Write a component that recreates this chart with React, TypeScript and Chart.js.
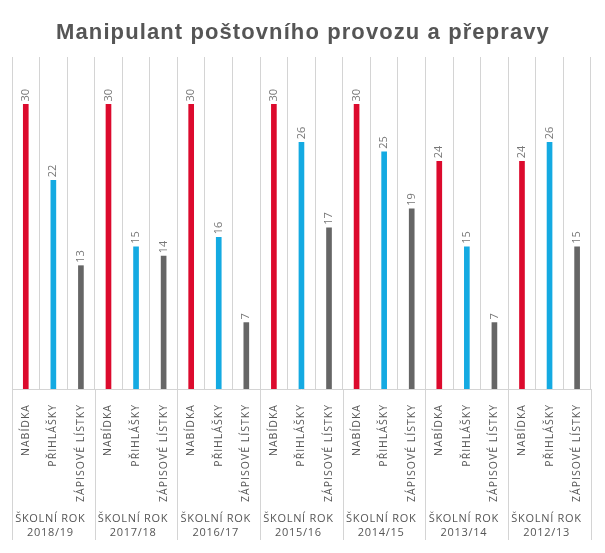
import React, { useEffect, useRef } from "react";
import { Chart, registerables } from "chart.js";

Chart.register(...registerables);

const TITLE = "Manipulant poštovního provozu a přepravy";
const YEARS = ["2018/19", "2017/18", "2016/17", "2015/16", "2014/15", "2013/14", "2012/13"];
const GROUP_PREFIX = "ŠKOLNÍ ROK";
const SERIES_NAMES = ["NABÍDKA", "PŘIHLÁŠKY", "ZÁPISOVÉ LÍSTKY"];
const NABIDKA = [30, 30, 30, 30, 30, 24, 24];
const PRIHLASKY = [22, 15, 16, 26, 25, 15, 26];
const ZAPISOVE = [13, 14, 7, 17, 19, 7, 15];
const COLORS = ["#dc0a2d", "#14aae2", "#666666"];

export default function App() {
  const ref = useRef<HTMLCanvasElement | null>(null);

  useEffect(() => {
    const canvas = ref.current;
    if (!canvas) return;

    const labels: string[] = [];
    const data: number[] = [];
    const colors: string[] = [];
    const series = [NABIDKA, PRIHLASKY, ZAPISOVE];
    YEARS.forEach((_, g) => {
      series.forEach((s, i) => {
        labels.push(SERIES_NAMES[i]);
        data.push(s[g]);
        colors.push(COLORS[i]);
      });
    });

    const overlay = {
      id: "overlay",
      beforeDraw(chart: any) {
        chart.ctx.letterSpacing = "1px";
      },
      afterDatasetsDraw(chart: any) {
        const ctx = chart.ctx;
        const meta = chart.getDatasetMeta(0);
        ctx.save();
        ctx.letterSpacing = "0px";
        ctx.fillStyle = "#777777";
        ctx.font = "11px 'Open Sans'";
        ctx.textAlign = "left";
        ctx.textBaseline = "middle";
        meta.data.forEach((el: any, i: number) => {
          ctx.save();
          ctx.translate(el.x, el.y - 3);
          ctx.rotate(-Math.PI / 2);
          ctx.fillText(String(data[i]), 0, 0);
          ctx.restore();
        });
        ctx.restore();
      },
      afterDraw(chart: any) {
        const ctx = chart.ctx;
        const xs = chart.scales.x;
        const area = chart.chartArea;
        const half = (xs.getPixelForValue(1) - xs.getPixelForValue(0)) / 2;
        ctx.save();
        ctx.strokeStyle = "#d4d4d4";
        ctx.lineWidth = 1;
        for (let g = 0; g <= YEARS.length; g++) {
          const x = Math.round(xs.getPixelForValue(g * 3) - half) + 0.5;
          ctx.beginPath();
          ctx.moveTo(x, area.bottom);
          ctx.lineTo(x, 540);
          ctx.stroke();
        }
        ctx.fillStyle = "#555555";
        ctx.font = "11px 'Open Sans'";
        ctx.letterSpacing = "0.7px";
        ctx.textAlign = "center";
        ctx.textBaseline = "middle";
        YEARS.forEach((y, g) => {
          const cx = xs.getPixelForValue(g * 3 + 1) - 3;
          ctx.fillText(GROUP_PREFIX, cx, 519);
          ctx.fillText(y, cx, 533);
        });
        ctx.fillStyle = "#555555";
        ctx.font = "bold 22px 'Liberation Sans'";
        ctx.letterSpacing = "1.1px";
        ctx.fillText(TITLE, 303, 33);
        ctx.restore();
      },
    };

    const chart = new Chart(canvas, {
      type: "bar",
      data: {
        labels,
        datasets: [
          {
            data,
            backgroundColor: colors,
            barThickness: 5,
            borderWidth: 0,
          },
        ],
      },
      options: {
        responsive: false,
        animation: false,
        layout: { padding: { top: 57, left: 12, right: 12, bottom: 0 } },
        plugins: {
          legend: { display: false },
          tooltip: { enabled: false },
          title: { display: false },
        },
        scales: {
          x: {
            afterFit(scale: any) {
              scale.height = 164;
            },
            grid: {
              offset: true,
              color: "#d4d4d4",
              drawTicks: false,
            },
            border: { display: true, color: "#d4d4d4" },
            ticks: {
              autoSkip: false,
              maxRotation: 90,
              minRotation: 90,
              padding: 15,
              color: "#555555",
              font: { family: "'Open Sans'", size: 10.5 },
            },
          },
          y: {
            display: false,
            min: 0,
            max: 35,
          },
        },
      },
      plugins: [overlay],
    });

    return () => chart.destroy();
  }, []);

  return (
    <div style={{ position: "absolute", left: 0, top: 0, width: 605, height: 553, background: "#fff" }}>
      <canvas ref={ref} width={605} height={553} />
    </div>
  );
}
